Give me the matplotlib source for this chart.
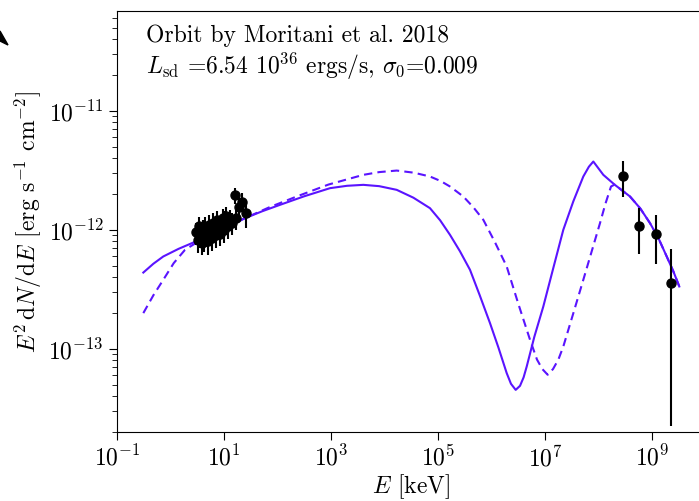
import numpy as np
import matplotlib
matplotlib.use("Agg")
import matplotlib.pyplot as plt
from matplotlib.patches import Polygon
from matplotlib.ticker import FixedLocator, NullLocator

plt.rcParams["font.family"] = "serif"
plt.rcParams["font.serif"] = ["cmr10"]
plt.rcParams["mathtext.fontset"] = "cm"
plt.rcParams["axes.formatter.use_mathtext"] = True

LINE_COLOR = "#5a14ff"

# model SEDs, log10(E/keV) and log10(flux)
solid_logE = [-0.508, -0.32, -0.135, 0.15, 0.426, 0.9, 1.393, 1.72, 2.047,
              2.5, 2.981, 3.3, 3.604, 3.9, 4.228, 4.54, 4.850, 5.04, 5.224,
              5.41, 5.598, 5.78, 5.972, 6.13, 6.284, 6.364, 6.452, 6.533, 6.60,
              6.658, 6.8, 6.968, 7.15, 7.342, 7.53, 7.716, 7.82, 7.903, 8.090,
              8.3, 8.589, 8.78, 8.963, 9.12, 9.275, 9.4, 9.510]
solid_logF = [-12.359, -12.285, -12.224, -12.160, -12.107, -12.000, -11.902,
              -11.843, -11.790, -11.718, -11.650, -11.630, -11.622, -11.633,
              -11.664, -11.730, -11.818, -11.920, -12.042, -12.180, -12.336,
              -12.550, -12.784, -12.990, -13.204, -13.294, -13.345, -13.311,
              -13.240, -13.149, -12.900, -12.645, -12.330, -12.000, -11.760,
              -11.552, -11.470, -11.426, -11.538, -11.620, -11.720, -11.820,
              -11.944, -12.070, -12.224, -12.350, -12.476]

dashed_logE = [-0.508, -0.32, -0.135, 0.06, 0.271, 0.53, 0.800, 1.1, 1.393,
               1.85, 2.359, 2.95, 3.604, 3.9, 4.228, 4.55, 4.850, 5.05, 5.224,
               5.473, 5.66, 5.847, 6.06, 6.284, 6.5, 6.720, 6.85, 6.950, 7.050,
               7.150, 7.25, 7.342, 7.53, 7.716, 7.88, 8.028, 8.13, 8.234, 8.3,
               8.589, 8.78, 8.963, 9.12, 9.275, 9.4, 9.510]
dashed_logF = [-12.700, -12.550, -12.420, -12.280, -12.168, -12.095, -12.042,
               -11.970, -11.902, -11.810, -11.720, -11.620, -11.538, -11.515,
               -11.502, -11.520, -11.552, -11.590, -11.636, -11.720, -11.810,
               -11.916, -12.100, -12.308, -12.620, -12.924, -13.090, -13.170,
               -13.218, -13.170, -13.090, -12.981, -12.700, -12.420, -12.170,
               -11.944, -11.780, -11.636, -11.620, -11.720, -11.820, -11.944,
               -12.070, -12.224, -12.350, -12.476]

# X-ray points: keV, flux in 1e-12 erg/s/cm2, error
xray_E = [3.0, 3.2, 3.4, 3.6, 3.8, 4.0, 4.2, 4.5, 4.8, 5.0, 5.3, 5.6, 6.0, 6.3,
          6.7, 7.0, 7.5, 8.0, 8.5, 9.0, 9.5, 10.0, 10.5, 11.0, 12.0, 13.0,
          14.0, 16.0, 17.0, 19.0, 22.0, 26.0]
xray_F = [0.95, 0.82, 1.08, 0.90, 0.78, 1.00, 0.85, 1.05, 0.92, 0.80, 1.10,
          0.97, 0.86, 1.15, 1.00, 0.90, 1.20, 1.05, 0.93, 1.12, 1.25, 1.00,
          1.18, 1.30, 1.08, 1.22, 1.15, 1.95, 1.25, 1.55, 1.72, 1.38]
xray_err = [0.20, 0.18, 0.20, 0.20, 0.17, 0.20, 0.20, 0.22, 0.20, 0.18, 0.22,
            0.20, 0.20, 0.23, 0.20, 0.20, 0.25, 0.22, 0.20, 0.24, 0.25, 0.22,
            0.25, 0.26, 0.24, 0.25, 0.24, 0.30, 0.25, 0.30, 0.30, 0.35]

# gamma-ray points with asymmetric errors
gamma_E = [2.91e8, 5.71e8, 1.17e9, 2.27e9]
gamma_F = [2.86e-12, 1.08e-12, 9.2e-13, 3.56e-13]
gamma_lo = [1.90e-12, 6.3e-13, 5.18e-13, 2.25e-14]
gamma_hi = [3.82e-12, 1.52e-12, 1.33e-12, 6.89e-13]

fig = plt.figure(figsize=(6.99, 5.01), dpi=100)
ax = fig.add_axes([117 / 699, 69 / 501, 588.5 / 699, 421 / 501])

ax.plot(10 ** np.array(solid_logE), 10 ** np.array(solid_logF),
        color=LINE_COLOR, lw=1.5)
ax.plot(10 ** np.array(dashed_logE), 10 ** np.array(dashed_logF),
        color=LINE_COLOR, lw=1.5, ls="--", dashes=(4, 2.5))

xF = np.array(xray_F) * 1e-12
xe = np.array(xray_err) * 1e-12
ax.errorbar(xray_E, xF, yerr=xe, fmt="o", color="k", ms=6.5, elinewidth=1.5,
            capsize=0)

gF = np.array(gamma_F)
ax.errorbar(gamma_E, gF, yerr=[gF - np.array(gamma_lo), np.array(gamma_hi) - gF],
            fmt="o", color="k", ms=6.5, elinewidth=1.5, capsize=0)

ax.set_xscale("log")
ax.set_yscale("log")
ax.set_xlim(1e-1, 1e10)
ax.set_ylim(2.0e-14, 6.9e-11)
ax.xaxis.set_major_locator(FixedLocator([1e-1, 1e1, 1e3, 1e5, 1e7, 1e9]))
ax.xaxis.set_minor_locator(NullLocator())
ax.tick_params(which="major", length=6, width=0.8, labelsize=17)
ax.tick_params(which="minor", length=3.5, width=0.6)

ax.set_xlabel(r"$E$ [keV]", fontsize=17, labelpad=1)
ax.set_ylabel(r"$E^2\,\mathrm{d}N/\mathrm{d}E$ [erg s$^{-1}$ cm$^{-2}$]",
              fontsize=17, labelpad=3)

ax.text(0.05, 0.968, "Orbit by Moritani et al. 2018", transform=ax.transAxes,
        fontsize=17, va="top")
ax.text(0.05, 0.905, r"$L_{\rm sd}$ =6.54 $10^{36}$ ergs/s, $\sigma_0$=0.009",
        transform=ax.transAxes, fontsize=17, va="top")

# arrow head left over at the top-left corner
tri = Polygon([(0, 1 - 31 / 501), (8 / 699, 1 - 45 / 501), (0, 1 - 41 / 501)],
              closed=True, color="k", transform=fig.transFigure)
fig.patches.append(tri)

fig.savefig("out.png", dpi=100)
